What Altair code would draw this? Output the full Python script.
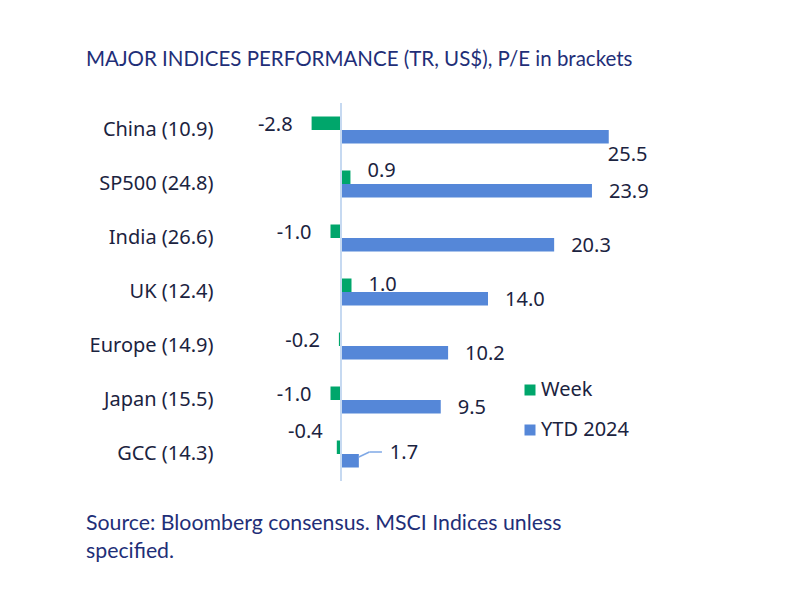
import altair as alt
import pandas as pd

countries = ["China (10.9)", "SP500 (24.8)", "India (26.6)", "UK (12.4)",
             "Europe (14.9)", "Japan (15.5)", "GCC (14.3)"]
week = [-2.8, 0.9, -1.0, 1.0, -0.2, -1.0, -0.4]
ytd = [25.5, 23.9, 20.3, 14.0, 10.2, 9.5, 1.7]
series_names = ["Week", "YTD 2024"]

title_text = "MAJOR INDICES PERFORMANCE (TR, US$), P/E in brackets"
footer_line1 = ["Source: Bloomberg consensus. MSCI Indices unless"]
footer_line2 = ["specified."]

GREEN = "#00A66B"
BLUE = "#5587D8"
ZERO = "#C6D9F1"
TXT = "#1B2340"
NAVY = "#1F2F78"
LABEL_FONT = "Noto Sans"
TITLE_FONT = "Lato"

rows = []
for c, w, y in zip(countries, week, ytd):
    rows.append({"Country": c, "Series": series_names[0], "Value": w})
    rows.append({"Country": c, "Series": series_names[1], "Value": y})
df = pd.DataFrame(rows)

XS = alt.Scale(domain=[-12, 30], nice=False, zero=False)
Y = alt.Y("Country:N", sort=countries,
          scale=alt.Scale(paddingInner=0.5, paddingOuter=0.25),
          axis=alt.Axis(title=None, domain=False, ticks=False, grid=False,
                        labelFontSize=20, labelFont=LABEL_FONT, labelColor=TXT,
                        labelPadding=2))
X = alt.X("Value:Q", scale=XS, axis=None)
COLOR = alt.Color("Series:N", sort=series_names,
                  scale=alt.Scale(domain=series_names, range=[GREEN, BLUE]),
                  legend=alt.Legend(title=None, orient="none", legendX=305,
                                    legendY=277, symbolType="square",
                                    symbolSize=121, labelFontSize=20,
                                    labelFont=LABEL_FONT, labelColor=TXT,
                                    rowPadding=20, labelOffset=1))

base = alt.Chart(df)
wk = "datum.Series == 'Week'"
yt = "datum.Series == 'YTD 2024'"
HALF = 6.75

week_bars = base.transform_filter(wk).mark_bar(height=13.5, yOffset=-HALF).encode(
    y=Y, x=X, color=COLOR)
ytd_bars = base.transform_filter(yt).mark_bar(height=13.5, yOffset=HALF).encode(
    y=Y, x=X, color=COLOR)

zero = alt.Chart(pd.DataFrame({"Zero": [0.0]})).mark_rule(
    color=ZERO, strokeWidth=2).encode(x=alt.X("Zero:Q", scale=XS, axis=None))


def lbl(expr, align, dx, dy):
    return base.transform_filter(expr).transform_calculate(
        Label="replace(format(datum.Value, '.1f'), '\u2212', '-')"
    ).mark_text(
        align=align, baseline="middle", dx=dx, dy=dy, fontSize=20,
        font=LABEL_FONT, color=TXT
    ).encode(y=alt.Y("Country:N", sort=countries), x=X, text="Label:N")


labels = [
    lbl(f"{wk} && datum.Value > 0 && datum.Country != 'SP500 (24.8)'", "left", 17, -HALF),
    lbl(f"{wk} && datum.Country == 'SP500 (24.8)'", "left", 17, -HALF - 6),
    lbl(f"{wk} && datum.Value < 0 && datum.Country != 'GCC (14.3)'", "right", -19, -HALF + 2),
    lbl(f"{wk} && datum.Country == 'GCC (14.3)'", "right", -14, -HALF - 15),
    lbl(f"{yt} && datum.Country != 'China (10.9)' && datum.Country != 'GCC (14.3)'", "left", 17, HALF + 1),
    lbl(f"{yt} && datum.Country == 'China (10.9)'", "left", -1, HALF + 18),
    lbl(f"{yt} && datum.Country == 'GCC (14.3)'", "left", 31, HALF - 8),
]

gcc = base.transform_filter(f"{yt} && datum.Country == 'GCC (14.3)'")
lead1 = gcc.transform_calculate(LeadEnd="datum.Value + 1.0").mark_rule(
    color="#7FA8E6", strokeWidth=1.5).encode(
    x=X, x2=alt.X2("LeadEnd"), y=alt.value(354), y2=alt.value(349))
lead2 = gcc.transform_calculate(LeadA="datum.Value + 1.0", LeadB="datum.Value + 2.2").mark_rule(
    color="#7FA8E6", strokeWidth=1.5).encode(
    x=alt.X("LeadA:Q", scale=XS, axis=None), x2=alt.X2("LeadB"),
    y=alt.value(349), y2=alt.value(349))


def foot(lines, ypx):
    return alt.Chart(pd.DataFrame({"t": lines})).mark_text(
        align="left", baseline="alphabetic", fontSize=21.3, font=TITLE_FONT, color=NAVY
    ).encode(x=alt.value(-129), y=alt.value(ypx), text="t:N")


chart = alt.layer(week_bars, ytd_bars, zero, *labels, lead1, lead2,
                  foot(footer_line1, 427), foot(footer_line2, 455)).properties(
    width=441, height=378,
    title=alt.TitleParams(title_text, anchor="start", frame="group", dx=-129,
                          offset=32, fontSize=20.5,
                          font=TITLE_FONT, fontWeight="normal", color=NAVY),
    autosize=alt.AutoSizeParams(type="none"),
    padding={"left": 207, "top": 95, "right": 120, "bottom": 110},
).configure_view(stroke=None)

chart.save("out.html", embed_options={"renderer": "svg", "actions": False})
